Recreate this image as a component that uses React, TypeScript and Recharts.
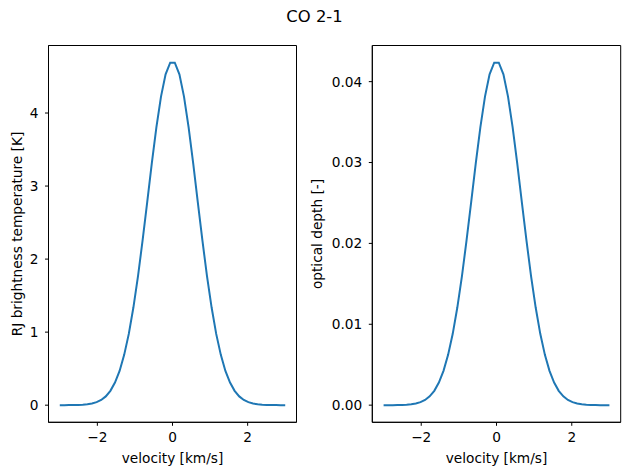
import React from "react";
import { LineChart, Line, XAxis, YAxis, ReferenceArea } from "recharts";

// velocity grid, -3 .. 3 km/s (50 samples)
const velocity = [
  -3.0, -2.878, -2.755, -2.633, -2.51, -2.388, -2.265, -2.143, -2.02, -1.898,
  -1.776, -1.653, -1.531, -1.408, -1.286, -1.163, -1.041, -0.918, -0.796, -0.673,
  -0.551, -0.429, -0.306, -0.184, -0.061, 0.061, 0.184, 0.306, 0.429, 0.551,
  0.673, 0.796, 0.918, 1.041, 1.163, 1.286, 1.408, 1.531, 1.653, 1.776,
  1.898, 2.02, 2.143, 2.265, 2.388, 2.51, 2.633, 2.755, 2.878, 3.0,
];

// RJ brightness temperature [K]
const tRJ = [
  0.0001, 0.0003, 0.0007, 0.0015, 0.0031, 0.0062, 0.0121, 0.0226, 0.041, 0.071,
  0.12, 0.196, 0.309, 0.469, 0.689, 0.976, 1.337, 1.766, 2.255, 2.779,
  3.309, 3.804, 4.224, 4.529, 4.69, 4.69, 4.529, 4.224, 3.804, 3.309,
  2.779, 2.255, 1.766, 1.337, 0.976, 0.689, 0.469, 0.309, 0.196, 0.12,
  0.071, 0.041, 0.0226, 0.0121, 0.0062, 0.0031, 0.0015, 0.0007, 0.0003, 0.0001,
];

// optical depth [-]
const tau = [
  0.0, 0.0, 0.0, 0.00001, 0.00003, 0.00006, 0.00011, 0.0002, 0.00037, 0.00064,
  0.00109, 0.00177, 0.00279, 0.00424, 0.00622, 0.00882, 0.01207, 0.01595, 0.02037, 0.0251,
  0.02989, 0.03436, 0.03815, 0.0409, 0.04235, 0.04235, 0.0409, 0.03815, 0.03436, 0.02989,
  0.0251, 0.02037, 0.01595, 0.01207, 0.00882, 0.00622, 0.00424, 0.00279, 0.00177, 0.00109,
  0.00064, 0.00037, 0.0002, 0.00011, 0.00006, 0.00003, 0.00001, 0.0, 0.0, 0.0,
];

const xTicks = [-2, 0, 2];
const tTicks = [0, 1, 2, 3, 4];
const tauTicks = [0, 0.01, 0.02, 0.03, 0.04];

const data = velocity.map((v, i) => ({ v, t: tRJ[i], tau: tau[i] }));

const FONT = "DejaVu Sans, sans-serif";
const BLUE = "#1f77b4";
const tickStyle = { fontSize: 13.7, fill: "#000", fontFamily: FONT };
const minus = (s: string) => s.replace("-", "\u2212");

const X_DOM: [number, number] = [-3.3, 3.3];
const T_DOM: [number, number] = [-0.2345, 4.9245];
const TAU_DOM: [number, number] = [-0.00212, 0.04447];

function Panel(props: {
  left: number;
  width: number;
  yWidth: number;
  marginLeft: number;
  marginRight: number;
  dataKey: string;
  domain: [number, number];
  ticks: number[];
  fmt: (v: number) => string;
}) {
  const { left, width, yWidth, marginLeft, marginRight, dataKey, domain, ticks, fmt } = props;
  return (
    <div style={{ position: "absolute", left, top: 0 }}>
      <LineChart
        width={width}
        height={475}
        data={data}
        margin={{ top: 45.5, right: marginRight, bottom: 22.7, left: marginLeft }}
      >
        <XAxis
          dataKey="v"
          type="number"
          domain={X_DOM}
          ticks={xTicks}
          allowDataOverflow
          tickFormatter={(v: number) => minus(String(v))}
          tick={tickStyle}
          tickSize={3.5}
          tickMargin={6}
          height={30}
          stroke="#000"
          axisLine={{ stroke: "#000", strokeWidth: 1 }}
          tickLine={{ stroke: "#000" }}
        />
        <YAxis
          type="number"
          domain={domain}
          ticks={ticks}
          allowDataOverflow
          tickFormatter={fmt}
          tick={tickStyle}
          tickSize={3.5}
          tickMargin={6.5}
          width={yWidth}
          stroke="#000"
          tickLine={{ stroke: "#000" }}
        />
        <ReferenceArea
          x1={X_DOM[0]}
          x2={X_DOM[1]}
          y1={domain[0]}
          y2={domain[1]}
          fill="none"
          stroke="#000"
          strokeWidth={1}
          fillOpacity={0}
        />
        <Line
          type="linear"
          dataKey={dataKey}
          stroke={BLUE}
          strokeWidth={2}
          dot={false}
          isAnimationActive={false}
        />
      </LineChart>
    </div>
  );
}

const labelStyle: React.CSSProperties = {
  position: "absolute",
  fontFamily: FONT,
  fontSize: 13.7,
  color: "#000",
  whiteSpace: "nowrap",
  lineHeight: "16px",
};

export default function App() {
  return (
    <div
      style={{
        position: "absolute",
        left: 0,
        top: 0,
        width: 629,
        height: 475,
        background: "#fff",
        overflow: "hidden",
      }}
    >
      <Panel
        left={0}
        width={310}
        yWidth={40}
        marginLeft={8.5}
        marginRight={13.5}
        dataKey="t"
        domain={T_DOM}
        ticks={tTicks}
        fmt={(v) => String(v)}
      />
      <Panel
        left={310}
        width={319}
        yWidth={50}
        marginLeft={12.3}
        marginRight={8.3}
        dataKey="tau"
        domain={TAU_DOM}
        ticks={tauTicks}
        fmt={(v) => v.toFixed(2)}
      />
      <div
        style={{
          ...labelStyle,
          fontSize: 16.4,
          left: 314.5,
          top: 17,
          transform: "translate(-50%, -50%)",
        }}
      >
        CO 2-1
      </div>
      <div style={{ ...labelStyle, left: 172.5, top: 458, transform: "translate(-50%, -50%)" }}>
        velocity [km/s]
      </div>
      <div style={{ ...labelStyle, left: 496.5, top: 458, transform: "translate(-50%, -50%)" }}>
        velocity [km/s]
      </div>
      <div
        style={{
          ...labelStyle,
          left: 17,
          top: 234,
          transform: "translate(-50%, -50%) rotate(-90deg)",
        }}
      >
        RJ brightness temperature [K]
      </div>
      <div
        style={{
          ...labelStyle,
          left: 317,
          top: 234,
          transform: "translate(-50%, -50%) rotate(-90deg)",
        }}
      >
        optical depth [-]
      </div>
    </div>
  );
}
